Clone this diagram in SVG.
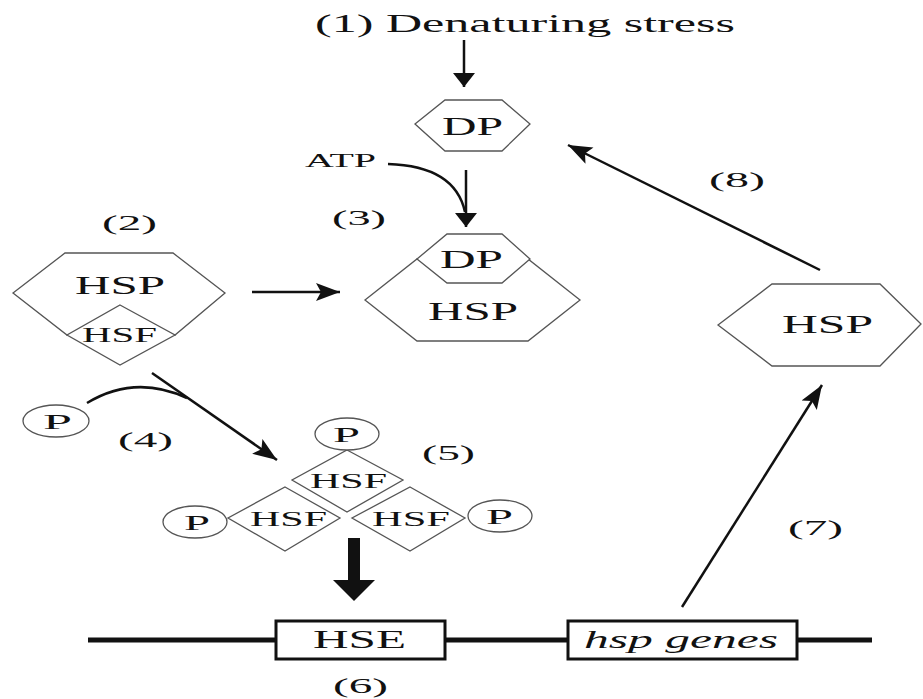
<svg xmlns="http://www.w3.org/2000/svg" width="923" height="699" viewBox="0 0 923 699">
<style>
text{font-family:"Liberation Serif","Times New Roman",serif;fill:#111}
.big{font-size:26px}
.num{font-size:22px}
.sm{font-size:20px}
.shape{fill:#fff;stroke:#555;stroke-width:1.3}
.arr{fill:none;stroke:#111;stroke-width:2.5}
.dna{stroke:#111;stroke-width:5;fill:none}
.box{fill:#fff;stroke:#111;stroke-width:3}
</style>
<defs>
<marker id="ah" markerUnits="userSpaceOnUse" markerWidth="26" markerHeight="20" viewBox="0 0 26 20" refX="24" refY="10" orient="auto">
<path d="M0,1 L24,10 L0,19 L5,10 Z" fill="#111"/>
</marker>
<marker id="ahs" markerUnits="userSpaceOnUse" markerWidth="16" markerHeight="24" viewBox="0 0 16 24" refX="14" refY="12" orient="auto">
<path d="M0,1 L14,12 L0,23 Z" fill="#111"/>
</marker>
</defs>

<g id="connectors">
<line class="arr" x1="464" y1="40" x2="464" y2="87" marker-end="url(#ahs)"/>
<line class="arr" x1="466" y1="170" x2="466" y2="227" marker-end="url(#ahs)"/>
<path class="arr" d="M388,164 Q455,166 465,212"/>
<line class="arr" x1="252" y1="292" x2="340" y2="292" marker-end="url(#ah)"/>
<line class="arr" x1="820" y1="270" x2="568" y2="145" marker-end="url(#ah)"/>
<line class="arr" x1="682" y1="607" x2="822" y2="385" marker-end="url(#ah)"/>
<line class="arr" x1="152" y1="373" x2="277" y2="460" marker-end="url(#ah)"/>
<path class="arr" d="M87,403 Q135,374 187,398"/>
<path d="M348,538 L360,538 L360,580 L375,580 L354,601 L333,580 L348,580 Z" fill="#111"/>
</g>

<g id="title"><text class="big" x="315" y="32" textLength="420" lengthAdjust="spacingAndGlyphs">(1) Denaturing stress</text></g>

<g id="dp-top">
<polygon class="shape" points="415,124 445,100 502,100 530,124 502,151 445,151"/>
<text class="big" x="442" y="135" textLength="61" lengthAdjust="spacingAndGlyphs">DP</text>
</g>

<g id="atp"><text x="305" y="167" font-size="18" textLength="71" lengthAdjust="spacingAndGlyphs">ATP</text></g>

<g id="complex3">
<polygon class="shape" points="365,300 417,259 528,259 580,300 528,341 417,341"/>
<polygon class="shape" points="417,259 447,234 502,234 530,259 502,283 447,283"/>
<text class="big" x="440" y="268" textLength="63" lengthAdjust="spacingAndGlyphs">DP</text>
<text class="big" x="428" y="320" textLength="90" lengthAdjust="spacingAndGlyphs">HSP</text>
<text class="num" x="332" y="225" textLength="54" lengthAdjust="spacingAndGlyphs">(3)</text>
</g>

<g id="complex2">
<polygon class="shape" points="13,293 65,253 173,253 225,293 175,335 67,335"/>
<polygon class="shape" points="120,305 175,335 120,365 67,335"/>
<text class="big" x="75" y="294" textLength="90" lengthAdjust="spacingAndGlyphs">HSP</text>
<text class="sm" x="82" y="342" textLength="75" lengthAdjust="spacingAndGlyphs">HSF</text>
<text class="num" x="102" y="230" textLength="55" lengthAdjust="spacingAndGlyphs">(2)</text>
</g>

<g id="hsp-right">
<polygon class="shape" points="718,325 772,284 880,284 921,324 880,366 772,366"/>
<text class="big" x="782" y="333" textLength="91" lengthAdjust="spacingAndGlyphs">HSP</text>
</g>

<g id="label8"><text class="num" x="709" y="187" textLength="56" lengthAdjust="spacingAndGlyphs">(8)</text></g>
<g id="label7"><text class="num" x="788" y="535" textLength="55" lengthAdjust="spacingAndGlyphs">(7)</text></g>

<g id="p4">
<ellipse class="shape" cx="56" cy="421" rx="33" ry="16"/>
<text class="num" x="43" y="429" textLength="29" lengthAdjust="spacingAndGlyphs">P</text>
<text class="num" x="118" y="447" textLength="55" lengthAdjust="spacingAndGlyphs">(4)</text>
</g>

<g id="trimer">
<polygon class="shape" points="347,450 403,480 347,512 292,480"/>
<polygon class="shape" points="285,487 340,518 285,551 228,518"/>
<polygon class="shape" points="410,487 465,518 410,551 352,518"/>
<text class="sm" x="310" y="488" textLength="77" lengthAdjust="spacingAndGlyphs">HSF</text>
<text class="sm" x="250" y="526" textLength="77" lengthAdjust="spacingAndGlyphs">HSF</text>
<text class="sm" x="372" y="526" textLength="78" lengthAdjust="spacingAndGlyphs">HSF</text>
<ellipse class="shape" cx="347" cy="434" rx="32" ry="16"/>
<text class="num" x="333" y="442" textLength="27" lengthAdjust="spacingAndGlyphs">P</text>
<ellipse class="shape" cx="195" cy="522" rx="32" ry="16"/>
<text class="num" x="184" y="530" textLength="26" lengthAdjust="spacingAndGlyphs">P</text>
<ellipse class="shape" cx="500" cy="516" rx="32" ry="16"/>
<text class="num" x="486" y="524" textLength="27" lengthAdjust="spacingAndGlyphs">P</text>
<text class="num" x="422" y="460" textLength="53" lengthAdjust="spacingAndGlyphs">(5)</text>
</g>

<g id="dna">
<line class="dna" x1="88" y1="640" x2="872" y2="640"/>
<rect class="box" x="276" y="621" width="169" height="38"/>
<text class="big" x="313" y="648" textLength="93" lengthAdjust="spacingAndGlyphs">HSE</text>
<rect class="box" x="568" y="621" width="229" height="38"/>
<text class="big" x="584" y="648" font-style="italic" textLength="194" lengthAdjust="spacingAndGlyphs">hsp genes</text>
<text class="num" x="333" y="693" textLength="55" lengthAdjust="spacingAndGlyphs">(6)</text>
</g>
</svg>
